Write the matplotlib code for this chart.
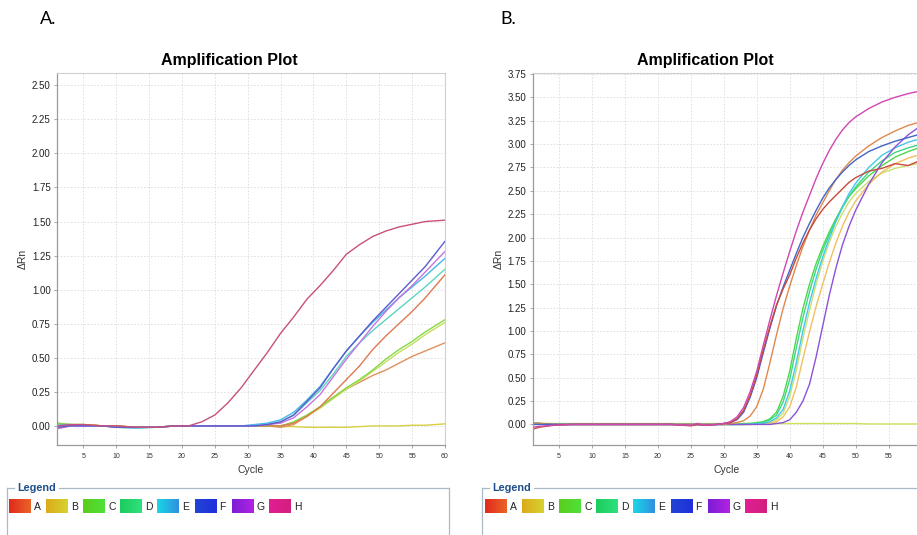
import numpy as np
import matplotlib
matplotlib.use("Agg")
import matplotlib.pyplot as plt
from matplotlib.colors import LinearSegmentedColormap

plt.rcParams['font.family'] = ['Liberation Sans', 'DejaVu Sans']

# ---------------- Panel A data ----------------
cycles_a = [1, 3, 5, 8, 10, 13, 16, 19, 21, 23, 25, 27, 29, 31,
            33, 35, 37, 39, 41, 43, 45, 47, 49, 51, 53, 55, 57, 60]
a_flat = [0.02, 0.01, 0.01, 0.00, 0.00, -0.01, -0.01, 0.00, 0.00, 0.00, 0.00, 0.00, 0.00, 0.00,
          0.00, -0.005, -0.005, -0.01, -0.01, -0.01, -0.01, -0.005, 0.00, 0.00, 0.00, 0.005, 0.005, 0.015]
a_orange = [-0.01, 0.00, 0.01, 0.00, 0.00, -0.01, -0.01, 0.00, 0.00, 0.00, 0.00, 0.00, 0.00, 0.00,
            0.00, -0.01, 0.01, 0.07, 0.14, 0.21, 0.27, 0.32, 0.37, 0.41, 0.46, 0.51, 0.55, 0.61]
a_B = [0.02, 0.01, 0.01, 0.00, 0.00, -0.01, -0.01, 0.00, 0.00, 0.00, 0.00, 0.00, 0.00, 0.00,
       0.00, 0.00, 0.02, 0.07, 0.13, 0.20, 0.27, 0.33, 0.40, 0.47, 0.54, 0.60, 0.67, 0.76]
a_C = [0.02, 0.01, 0.01, 0.00, 0.00, -0.01, -0.01, 0.00, 0.00, 0.00, 0.00, 0.00, 0.00, 0.00,
       0.00, 0.00, 0.03, 0.08, 0.14, 0.21, 0.28, 0.34, 0.41, 0.49, 0.56, 0.62, 0.69, 0.78]
a_A = [-0.02, 0.00, 0.01, 0.00, 0.00, -0.01, -0.01, 0.00, 0.00, 0.00, 0.00, 0.00, 0.00, 0.00,
       0.00, 0.00, 0.02, 0.07, 0.14, 0.24, 0.34, 0.44, 0.56, 0.66, 0.75, 0.84, 0.94, 1.11]
a_D = [0.01, 0.01, 0.00, 0.00, -0.01, -0.015, -0.01, 0.00, 0.00, 0.00, 0.00, 0.00, 0.00, 0.00,
       0.01, 0.03, 0.08, 0.17, 0.26, 0.38, 0.51, 0.61, 0.70, 0.78, 0.86, 0.94, 1.02, 1.15]
a_E = [0.00, 0.01, 0.00, 0.00, -0.01, -0.015, -0.01, 0.00, 0.00, 0.00, 0.00, 0.00, 0.00, 0.01,
       0.02, 0.045, 0.10, 0.19, 0.29, 0.42, 0.55, 0.66, 0.76, 0.85, 0.94, 1.02, 1.10, 1.23]
a_G = [-0.02, 0.00, 0.00, 0.00, -0.01, -0.01, -0.01, 0.00, 0.00, 0.00, 0.00, 0.00, 0.00, 0.00,
       0.01, 0.02, 0.06, 0.14, 0.23, 0.36, 0.49, 0.61, 0.73, 0.84, 0.94, 1.03, 1.13, 1.28]
a_F = [-0.01, 0.00, 0.00, 0.00, -0.01, -0.01, -0.01, 0.00, 0.00, 0.00, 0.00, 0.00, 0.00, 0.00,
       0.01, 0.03, 0.08, 0.18, 0.28, 0.42, 0.55, 0.66, 0.77, 0.87, 0.97, 1.07, 1.17, 1.355]
a_H = [0.00, 0.01, 0.01, 0.00, 0.00, -0.01, -0.01, 0.00, 0.00, 0.03, 0.08, 0.17, 0.28, 0.41,
       0.54, 0.68, 0.80, 0.93, 1.03, 1.14, 1.26, 1.33, 1.39, 1.43, 1.46, 1.48, 1.50, 1.51]

series_a = [a_flat, a_orange, a_B, a_C, a_A, a_D, a_E, a_G, a_F, a_H]
colors_a = ['#d8d040', '#e0905c', '#c4de62', '#86d844', '#e07850', '#5cd4c0',
            '#44b8e8', '#c674e2', '#5a5ccc', '#c8507a']

# ---------------- Panel B data ----------------
cycles_b = [1, 2, 4, 7, 10, 13, 16, 19, 22, 25, 26, 27, 29,
            30, 31, 32, 33, 34, 35, 36, 37, 38, 39, 40, 41, 42, 43, 44, 45, 46, 47, 48, 49, 50,
            52, 54, 56, 58, 60]
base_b = [0.01, 0.01, 0.00, 0.00, 0.00, 0.00, 0.00, 0.00, 0.00, 0.00, 0.00, 0.00, 0.00]
b_flat = [0.02, 0.015, 0.01, 0.01, 0.01, 0.01, 0.01, 0.01, 0.01, 0.01, 0.01, 0.01, 0.01,
          0.01, 0.01, 0.01, 0.01, 0.01, 0.01, 0.01, 0.01, 0.01, 0.01, 0.01, 0.01, 0.01, 0.01,
          0.01, 0.01, 0.01, 0.01, 0.01, 0.01, 0.01, 0.005, 0.005, 0.005, 0.005, 0.005]
b_H = [-0.03, -0.02, -0.01, 0.00, 0.00, 0.00, 0.00, 0.00, 0.00, -0.01, 0.01, -0.01, 0.00,
       0.01, 0.03, 0.08, 0.18, 0.35, 0.57, 0.85, 1.12, 1.38, 1.62, 1.85, 2.07, 2.27, 2.45,
       2.63, 2.79, 2.93, 3.05, 3.15, 3.23, 3.29, 3.38, 3.45, 3.50, 3.54, 3.57]
b_A = [-0.05, -0.03, -0.01, 0.00, 0.00, 0.00, 0.00, 0.00, 0.00, -0.015, 0.00, -0.01, 0.00,
       0.01, 0.02, 0.06, 0.15, 0.31, 0.53, 0.80, 1.05, 1.28, 1.45, 1.60, 1.78, 1.94, 2.08,
       2.20, 2.30, 2.38, 2.45, 2.52, 2.59, 2.64, 2.71, 2.74, 2.79, 2.77, 2.83]
b_F = [0.00, 0.00, 0.00, 0.00, 0.00, 0.00, 0.00, 0.00, 0.00, -0.01, 0.00, -0.01, 0.00,
       0.01, 0.02, 0.05, 0.13, 0.29, 0.50, 0.77, 1.03, 1.27, 1.47, 1.65, 1.83, 2.00, 2.15,
       2.29, 2.42, 2.53, 2.62, 2.70, 2.77, 2.83, 2.92, 2.98, 3.03, 3.07, 3.11]
b_orange = base_b + [0.00, 0.01, 0.02, 0.04, 0.09, 0.19, 0.38, 0.66, 0.96, 1.24, 1.48, 1.70, 1.90,
                     2.08, 2.24, 2.37, 2.50, 2.62, 2.72, 2.80, 2.87, 2.98, 3.07, 3.14, 3.20, 3.24]
b_C = base_b + [0.00, 0.00, 0.00, 0.01, 0.01, 0.02, 0.03, 0.06, 0.13, 0.30, 0.57, 0.92, 1.24,
                1.50, 1.72, 1.90, 2.06, 2.20, 2.33, 2.44, 2.52, 2.66, 2.77, 2.86, 2.92, 2.97]
b_D = base_b + [0.00, 0.00, 0.00, 0.00, 0.01, 0.01, 0.02, 0.05, 0.10, 0.24, 0.48, 0.82, 1.14,
                1.42, 1.66, 1.86, 2.03, 2.18, 2.32, 2.44, 2.54, 2.70, 2.82, 2.91, 2.96, 3.00]
b_E = base_b + [0.00, 0.00, 0.00, 0.00, 0.00, 0.01, 0.01, 0.03, 0.07, 0.16, 0.36, 0.66, 1.00,
                1.30, 1.56, 1.79, 1.99, 2.17, 2.33, 2.47, 2.58, 2.75, 2.88, 2.96, 3.02, 3.06]
b_lorange = base_b + [0.00, 0.00, 0.00, 0.00, 0.00, 0.00, 0.01, 0.01, 0.03, 0.08, 0.19, 0.40, 0.70,
                      0.99, 1.26, 1.50, 1.73, 1.94, 2.12, 2.27, 2.39, 2.57, 2.70, 2.79, 2.85, 2.89]
b_yg = base_b + [0.00, 0.00, 0.00, 0.00, 0.00, 0.01, 0.01, 0.02, 0.05, 0.12, 0.30, 0.58, 0.92,
                 1.22, 1.50, 1.74, 1.95, 2.12, 2.26, 2.38, 2.47, 2.60, 2.69, 2.74, 2.77, 2.80]
b_G = base_b + [0.00, 0.00, 0.00, 0.00, 0.00, 0.00, 0.00, 0.00, 0.01, 0.02, 0.05, 0.13, 0.25,
                0.43, 0.72, 1.05, 1.38, 1.67, 1.92, 2.12, 2.29, 2.57, 2.80, 2.97, 3.10, 3.20]

series_b = [b_flat, b_yg, b_lorange, b_C, b_D, b_E, b_G, b_orange, b_F, b_A, b_H]
colors_b = ['#cfe05a', '#cbe070', '#f0c060', '#4cd84c', '#3cd882', '#44c8e8', '#8c52d8',
            '#e0884c', '#4464c8', '#c84a3a', '#d246b4']

# ---------------- Legend data ----------------
legend_labels = ['A', 'B', 'C', 'D', 'E', 'F', 'G', 'H']
legend_grad = [('#e02a1c', '#ea6428'), ('#dcaa1c', '#d6d230'), ('#5ccc1c', '#4ee23a'),
               ('#1ccc5c', '#30e07c'), ('#1ad6e6', '#3090e0'), ('#2244d4', '#2030dc'),
               ('#7c1ed4', '#b222e4'), ('#e21e94', '#d2207e')]

xticks = [5, 10, 15, 20, 25, 30, 35, 40, 45, 50, 55, 60]
yticks_a = [0.0, 0.25, 0.5, 0.75, 1.0, 1.25, 1.5, 1.75, 2.0, 2.25, 2.5]
yticks_b = [0.0, 0.25, 0.5, 0.75, 1.0, 1.25, 1.5, 1.75, 2.0, 2.25, 2.5, 2.75, 3.0, 3.25, 3.5, 3.75]

W, H = 917, 535
fig = plt.figure(figsize=(W / 100, H / 100), dpi=100)

# overlay in pixel coords for legend boxes etc.
ov = fig.add_axes([0, 0, 1, 1], zorder=0)
ov.set_xlim(0, W)
ov.set_ylim(H, 0)
ov.axis('off')


def px_axes(left, top, right, bottom):
    return fig.add_axes([left / W, 1 - bottom / H, (right - left) / W, (bottom - top) / H], zorder=2)


def style(ax, ylim, yticks, show_last_x=True):
    ax.set_xlim(1, 60)
    ax.set_ylim(*ylim)
    ax.set_xticks(xticks)
    ax.set_yticks(yticks)
    xl = [str(t) for t in xticks]
    if not show_last_x:
        xl[-1] = ''
    ax.set_xticklabels(xl, fontsize=5, color='#333333')
    ax.set_yticklabels(['%.2f' % t for t in yticks], fontsize=7, color='#222222')
    ax.tick_params(axis='x', length=2.5, width=0.6, color='#999999', pad=3)
    ax.tick_params(axis='y', length=2.5, width=0.6, color='#999999', pad=2)
    ax.grid(True, color='#dcdcdc', linestyle=(0, (2, 2)), linewidth=0.6)
    ax.set_axisbelow(True)
    for s in ['top', 'right']:
        ax.spines[s].set_color('#d0d0d0')
        ax.spines[s].set_linewidth(0.8)
    for s in ['left', 'bottom']:
        ax.spines[s].set_color('#9a9a9a')
        ax.spines[s].set_linewidth(0.9)
    ax.set_xlabel('Cycle', fontsize=7.5, color='#333333', labelpad=4)
    ax.set_ylabel('ΔRn', fontsize=7.5, color='#333333', labelpad=3)


axA = px_axes(57, 73, 445, 445)
for ys, c in zip(series_a, colors_a):
    axA.plot(cycles_a, ys, color=c, lw=1.0)
style(axA, (-0.14, 2.59), yticks_a)

axB = px_axes(532.7, 73, 921.5, 445)
for ys, c in zip(series_b, colors_b):
    axB.plot(cycles_b, ys, color=c, lw=1.0)
style(axB, (-0.22, 3.76), yticks_b, show_last_x=False)

# titles and panel letters
for xc, xl, let in [(229, 48, 'A.'), (705, 508, 'B.')]:
    ov.text(xc, 61, 'Amplification Plot', ha='center', va='center', fontsize=11.5,
            fontweight='bold', color='black')
    ov.text(xl, 19, let, ha='center', va='center', fontsize=13, color='black',
            family=['Lato', 'DejaVu Sans'])

# legend boxes
for box_l, box_r, sw_x0 in [(7, 449, 9), (482, 930, 485)]:
    ov.plot([box_l, box_l + 7], [488, 488], color='#a9b9c6', lw=0.9, clip_on=False)
    ov.plot([box_l + 52, box_r], [488, 488], color='#a9b9c6', lw=0.9, clip_on=False)
    ov.plot([box_l, box_l], [488, 540], color='#a9b9c6', lw=0.9, clip_on=False)
    ov.plot([box_r, box_r], [488, 540], color='#a9b9c6', lw=0.9, clip_on=False)
    ov.text(box_l + 10, 488, 'Legend', ha='left', va='center', fontsize=7.8,
            fontweight='bold', color='#1f4f8a')
    for i, (lab, (c0, c1)) in enumerate(zip(legend_labels, legend_grad)):
        x0 = sw_x0 + i * 37.1
        cmap = LinearSegmentedColormap.from_list('g%d' % i, [c0, c1])
        grad = np.linspace(0, 1, 32).reshape(1, -1)
        ov.imshow(grad, cmap=cmap, aspect='auto', extent=(x0, x0 + 21.5, 513, 499),
                  interpolation='bilinear')
        ov.text(x0 + 25, 506.5, lab, ha='left', va='center', fontsize=7.5, color='#222222')

ov.set_xlim(0, W)
ov.set_ylim(H, 0)

fig.savefig('out.png', dpi=100)
